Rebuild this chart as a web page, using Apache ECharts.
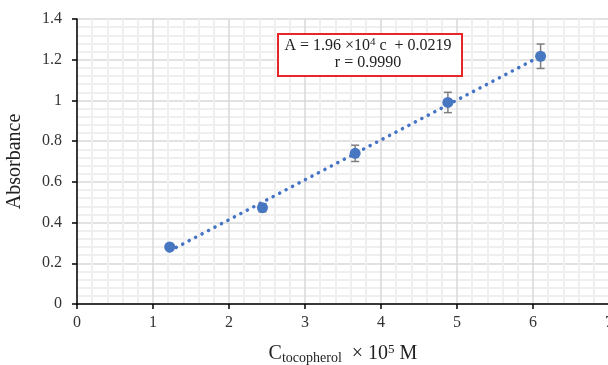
<!DOCTYPE html>
<html><head><meta charset="utf-8">
<script src="https://cdn.jsdelivr.net/npm/echarts@6/dist/echarts.min.js"></script>
<style>html,body{margin:0;padding:0;background:#fff}#c{width:608px;height:365px}</style>
</head><body><div id="c"></div>
<script>
const concentrations = [1.22, 2.44, 3.66, 4.88, 6.10];
const absorbance = [0.28, 0.473, 0.74, 0.99, 1.217];
const errors = [0.008, 0.02, 0.04, 0.05, 0.06];
const slope = 0.196, intercept = 0.0219;
const xTicks = [0, 7, 1];
const yTicks = [0, 1.4, 0.2];

const pts = concentrations.map((x, i) => [x, absorbance[i]]);
const errData = concentrations.map((x, i) => [x, absorbance[i] - errors[i], absorbance[i] + errors[i]]);
const xs0 = concentrations[0], xs1 = concentrations[concentrations.length - 1];
const trend = [[xs0, slope * xs0 + intercept], [xs1, slope * xs1 + intercept]];
const serif = '"Liberation Serif", "DejaVu Serif", serif';

const chart = echarts.init(document.getElementById('c'));
chart.setOption({
  animation: false,
  grid: {left: 77, right: -1, top: 19, bottom: 61, outerBoundsMode: 'none', containLabel: false},
  xAxis: {
    type: 'value', min: xTicks[0], max: xTicks[1], interval: xTicks[2],
    axisLine: {show: true, onZero: false, lineStyle: {color: '#000', width: 1.5}},
    axisTick: {show: true, length: 5, lineStyle: {color: '#000', width: 1.5}},
    axisLabel: {color: '#333', fontFamily: serif, fontSize: 16, margin: 11},
    splitLine: {show: true, lineStyle: {color: '#d9d9d9', width: 1.5}},
    minorTick: {show: false, splitNumber: 5},
    minorSplitLine: {show: true, lineStyle: {color: '#efefef', width: 2}},
    name: '{c|C}{s|tocopherol}{c|  × 10}{p|5}{c| M}',
    nameLocation: 'middle', nameGap: 39,
    nameTextStyle: {
      fontFamily: serif, color: '#222',
      rich: {
        c: {fontFamily: serif, fontSize: 20, color: '#222'},
        s: {fontFamily: serif, fontSize: 14, color: '#222', verticalAlign: 'bottom', padding: [6, 0, 0, 0]},
        p: {fontFamily: serif, fontSize: 13, color: '#222', verticalAlign: 'top', padding: [0, 0, 9, 0]}
      }
    }
  },
  yAxis: {
    type: 'value', min: yTicks[0], max: yTicks[1], interval: yTicks[2],
    axisLine: {show: true, lineStyle: {color: '#000', width: 1.5}},
    axisTick: {show: true, length: 5, lineStyle: {color: '#000', width: 1.5}},
    axisLabel: {color: '#333', fontFamily: serif, fontSize: 16, margin: 15},
    splitLine: {show: true, lineStyle: {color: '#d9d9d9', width: 1.5}},
    minorTick: {show: false, splitNumber: 5},
    minorSplitLine: {show: true, lineStyle: {color: '#efefef', width: 2}},
    name: 'Absorbance', nameLocation: 'middle', nameGap: 52,
    nameTextStyle: {fontFamily: serif, fontSize: 20, color: '#222'}
  },
  series: [
    {
      type: 'line', data: trend, symbol: 'none', z: 3,
      lineStyle: {color: '#4472c4', width: 3.5, type: [0.1, 7.2], cap: 'round'}
    },
    {
      type: 'custom', z: 4,
      renderItem: function (params, api) {
        const x = api.coord([api.value(0), api.value(1)])[0];
        const yl = api.coord([api.value(0), api.value(1)])[1];
        const yh = api.coord([api.value(0), api.value(2)])[1];
        const w = 4;
        const st = {stroke: '#7f7f7f', lineWidth: 1.5};
        return {type: 'group', children: [
          {type: 'line', shape: {x1: x, y1: yl, x2: x, y2: yh}, style: st},
          {type: 'line', shape: {x1: x - w, y1: yl, x2: x + w, y2: yl}, style: st},
          {type: 'line', shape: {x1: x - w, y1: yh, x2: x + w, y2: yh}, style: st}
        ]};
      },
      data: errData
    },
    {
      type: 'scatter', data: pts, symbol: 'circle', symbolSize: 11, z: 5,
      itemStyle: {color: '#4677c0', opacity: 1}
    }
  ],
  graphic: [
    {type: 'rect', left: 277, top: 33, shape: {width: 184, height: 42},
     style: {fill: '#fff', stroke: '#e8262a', lineWidth: 2}, z: 10},
    {type: 'text', z: 11, x: 368, y: 37,
     style: {
       text: '{t|A = 1.96 ×10}{p|4}{t| c  + 0.0219}',
       align: 'center', fill: '#222',
       rich: {
         t: {fontFamily: serif, fontSize: 16, fill: '#222'},
         p: {fontFamily: serif, fontSize: 11, fill: '#222', verticalAlign: 'top', padding: [0, 0, 6, 0]}
       }
     }},
    {type: 'text', z: 11, x: 368, y: 55,
     style: {text: 'r = 0.9990', align: 'center', fontFamily: serif, fontSize: 16, fill: '#222'}}
  ]
});
</script></body></html>
